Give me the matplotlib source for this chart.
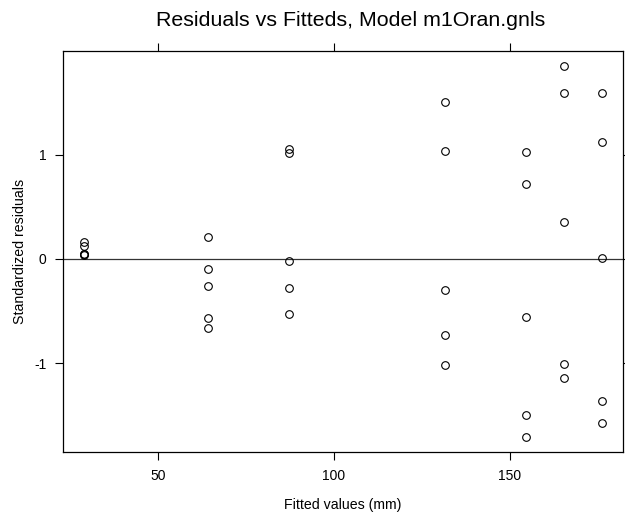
import matplotlib
matplotlib.use("Agg")
import matplotlib.pyplot as plt
import numpy as np

plt.rcParams['font.family'] = ['Liberation Sans', 'DejaVu Sans']

# Fitted values (one per age group) and standardized residuals (5 trees each)
fitted_levels = [28.9, 64.1, 87.2, 131.6, 154.6, 165.2, 176.2]
resid_g1 = [0.165, 0.125, 0.05, 0.045, 0.04]
resid_g2 = [0.21, -0.10, -0.26, -0.57, -0.66]
resid_g3 = [1.05, 1.01, -0.02, -0.28, -0.53]
resid_g4 = [1.50, 1.03, -0.30, -0.73, -1.02]
resid_g5 = [1.02, 0.72, -0.56, -1.50, -1.71]
resid_g6 = [1.85, 1.59, 0.35, -1.01, -1.14]
resid_g7 = [1.59, 1.12, 0.01, -1.36, -1.57]
residuals = [resid_g1, resid_g2, resid_g3, resid_g4, resid_g5, resid_g6, resid_g7]

x_ticks = [50, 100, 150]
y_ticks = [-1, 0, 1]

xs = np.concatenate([[f] * len(r) for f, r in zip(fitted_levels, residuals)])
ys = np.concatenate(residuals)

fig = plt.figure(figsize=(6.25, 5.12), dpi=100)
ax = fig.add_axes([63/625, 1 - 452/512, 560/625, 401/512])

ax.axhline(0, color='#333333', lw=0.9, zorder=1)
ax.plot(xs, ys, linestyle='none', marker='o', markersize=5.5,
        markerfacecolor='none', markeredgecolor='black', markeredgewidth=0.8, zorder=2)

def ext(lo, hi, f=0.04):
    d = hi - lo
    return lo - f * d, hi + f * d

ax.set_xlim(*ext(xs.min(), xs.max()))
ax.set_ylim(*ext(ys.min(), ys.max()))

ax.set_xticks(x_ticks)
ax.set_yticks(y_ticks)
ax.set_xticklabels([str(t) for t in x_ticks])
ax.set_yticklabels([str(t) for t in y_ticks])
ax.tick_params(direction='out', length=6, width=0.8, labelsize=10, pad=6,
               top=True, right=True, labeltop=False, labelright=False)
for s in ax.spines.values():
    s.set_linewidth(0.9)

ax.set_xlabel('Fitted values (mm)', fontsize=10.2, labelpad=11)
ax.set_ylabel('Standardized residuals', fontsize=10.2, labelpad=5)
fig.text(351/625, 1 - 20/512, 'Residuals vs Fitteds, Model m1Oran.gnls',
         ha='center', va='center', fontsize=15.4)

fig.savefig('out.png', dpi=100)
